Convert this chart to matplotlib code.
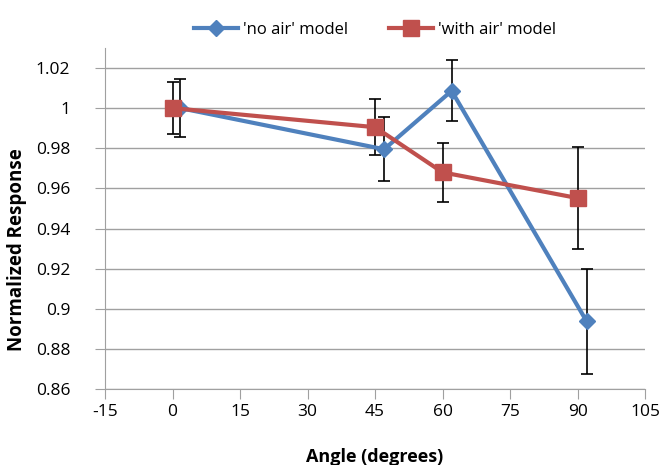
import numpy as np
import matplotlib.pyplot as plt

plt.rcParams['font.family'] = ['Open Sans', 'DejaVu Sans']
plt.rcParams['axes.unicode_minus'] = False

# 'no air' model
angle_no_air = [1.7, 47, 62, 92]
resp_no_air = [1.000, 0.9795, 1.0086, 0.8938]
err_no_air = [0.0145, 0.016, 0.0152, 0.0263]

# 'with air' model
angle_air = [0, 45, 60, 90]
resp_air = [1.000, 0.9905, 0.968, 0.9552]
err_air = [0.013, 0.014, 0.0147, 0.0256]

blue = '#4F81BD'
red = '#C0504D'
grey = '#A0A0A0'

fig = plt.figure(figsize=(6.61, 4.65), dpi=100)
ax = fig.add_axes([0.159, 0.163, 0.817, 0.734])

ax.errorbar(angle_no_air, resp_no_air, yerr=err_no_air, fmt='none',
            ecolor='black', elinewidth=1.2, capsize=4, capthick=1.2, zorder=2)
ax.errorbar(angle_air, resp_air, yerr=err_air, fmt='none',
            ecolor='black', elinewidth=1.2, capsize=4, capthick=1.2, zorder=2)
ax.plot(angle_no_air, resp_no_air, color=blue, lw=3, marker='D', ms=8,
        label="'no air' model", zorder=3)
ax.plot(angle_air, resp_air, color=red, lw=3, marker='s', ms=11,
        label="'with air' model", zorder=4)

ax.set_xlim(-15, 105)
ax.set_ylim(0.86, 1.03)
ax.set_xticks(np.arange(-15, 106, 15))
ax.set_yticks(np.arange(0.86, 1.021, 0.02))
ax.set_yticklabels(['0.86', '0.88', '0.9', '0.92', '0.94', '0.96', '0.98', '1', '1.02'])
ax.yaxis.grid(True, color=grey, lw=1)
ax.set_axisbelow(True)

for s in ['top', 'right']:
    ax.spines[s].set_visible(False)
for s in ['left', 'bottom']:
    ax.spines[s].set_color(grey)
ax.tick_params(axis='both', colors=grey, labelcolor='black', labelsize=12.5,
               length=7, direction='out')
ax.tick_params(axis='y', pad=18)

ax.set_xlabel('Angle (degrees)', fontsize=13, fontweight='bold', labelpad=20)
ax.set_ylabel('Normalized Response', fontsize=13.5, fontweight='bold')
ax.yaxis.set_label_coords(-0.145, 0.41)

ax.legend(loc='lower center', bbox_to_anchor=(0.5, 1.0), ncol=2, frameon=False,
          fontsize=12, handlelength=2.6, handletextpad=0.3, columnspacing=2.5,
          borderaxespad=0.2)

fig.savefig('out.png', dpi=100)
